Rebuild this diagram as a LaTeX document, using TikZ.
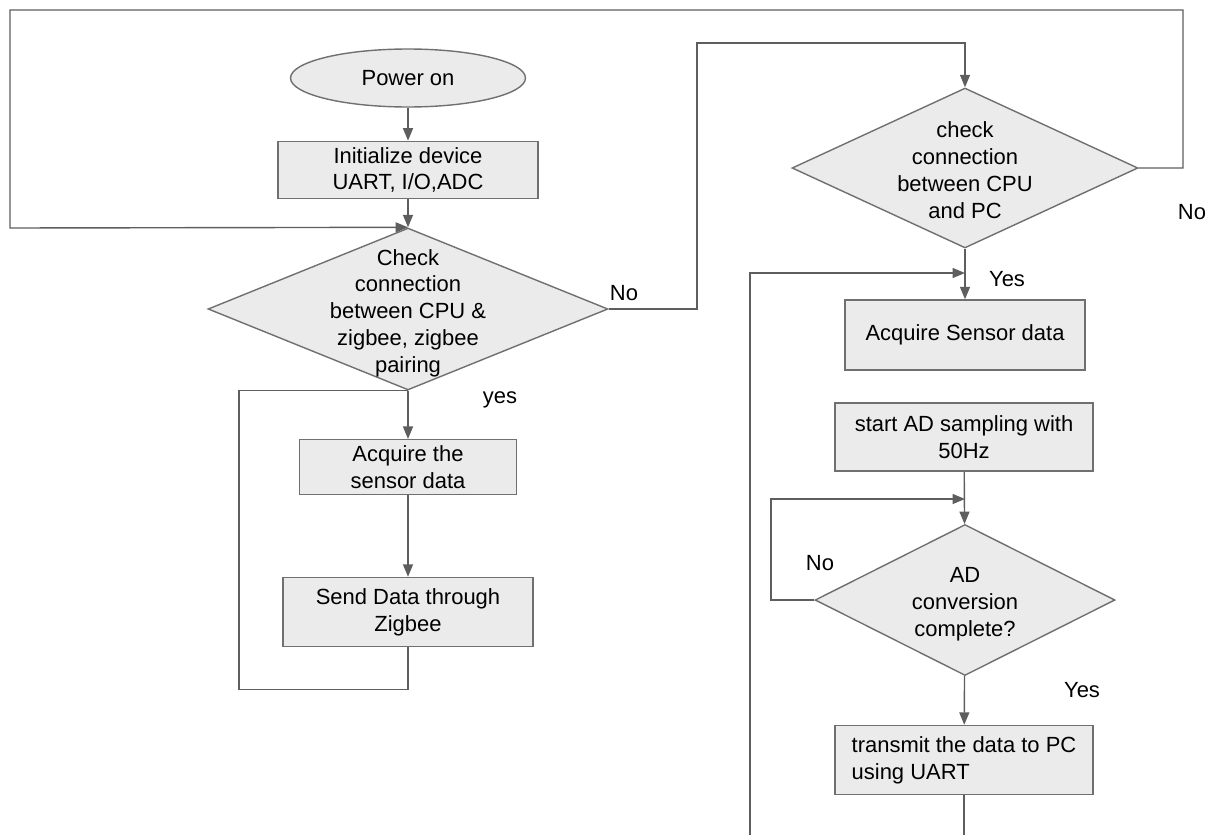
\documentclass[tikz,border=0pt]{standalone}
\usepackage{fontspec}
\setmainfont{Liberation Sans}
\usepackage{xcolor}
\usetikzlibrary{shapes.geometric}
\usetikzlibrary{arrows.meta}
\definecolor{boxfill}{HTML}{EBEBEB}
\definecolor{boxline}{HTML}{707070}
\definecolor{wireclr}{HTML}{5E5E5E}

\newcommand{\dlines}[1]{\makebox[0pt]{\smash{\raisebox{-5.5pt}{\begin{tabular}{@{}c@{}}#1\end{tabular}}}}}

\begin{document}
\begin{tikzpicture}[x=0.02cm, y=-0.02cm,
  font=\fontsize{12.5}{15.3}\selectfont,
  block/.style={rectangle, draw=boxline, fill=boxfill, line width=0.8pt, align=center},
  decision/.style={diamond, draw=boxline, fill=boxfill, line width=0.8pt, inner sep=0pt},
  terminal/.style={ellipse, draw=boxline, fill=boxfill, line width=0.8pt},
  wire/.style={draw=wireclr, line width=0.8pt},
  flow/.style={wire, -{Triangle[length=0.25cm, width=0.2cm]}},
]
  \useasboundingbox (0,0) rectangle (1212,835);

  % zigbee side
  \node[terminal, minimum width=4.7cm, minimum height=1.16cm] (pwr) at (408,78) {Power on};
  \node[block, minimum width=5.2cm, minimum height=1.06cm] (init) at (408,170) {Initialize device\\UART, I/O,ADC};
  \node[decision, minimum width=8cm, minimum height=3.24cm] (chk1) at (408,309)
    {\dlines{Check\\connection\\between CPU \&\\zigbee, zigbee\\pairing}};
  \node[block, minimum width=4.34cm, minimum height=1cm] (acq1) at (408,467) {Acquire the\\sensor data};
  \node[block, minimum width=5cm, minimum height=1.38cm] (send) at (408,612) {Send Data through\\Zigbee};

  % PC side
  \node[decision, minimum width=6.92cm, minimum height=3.2cm] (chk2) at (965,168)
    {\dlines{check\\connection\\between CPU\\and PC}};
  \node[block, minimum width=4.8cm, minimum height=1.4cm] (acqpc) at (965,335) {Acquire Sensor data};
  \node[block, minimum width=5.16cm, minimum height=1.36cm] (samp) at (964,437) {start AD sampling with\\50Hz};
  \node[decision, minimum width=6cm, minimum height=3.02cm] (adc) at (965,600)
    {\dlines{AD\\conversion\\complete?}};
  \node[block, align=left, minimum width=5.16cm, minimum height=1.38cm] (tx) at (964,760) {transmit the data to PC\\using UART};

  \node (no1) at (624,293) {No};
  \node (yes1) at (500,400) {yes};
  \node (no2) at (1192,212) {No};
  \node (yes2) at (1007,279) {Yes};
  \node (no3) at (820,563) {No};
  \node (yes3) at (1082,690) {Yes};

  \coordinate (pcjoin) at (965,273);
  \coordinate (adjoin) at (965,499);
  \coordinate (back) at (750,835);

  \draw[flow] (pwr) -- (init);
  \draw[flow] (init) -- (chk1);
  \draw[flow] (chk1) -- (acq1);
  \draw[flow] (acq1) -- (send);
  \draw[wire] (send.south) |- ++(-169,42) |- (chk1.south);
  \draw[flow] (chk1.east) -| (697,43) -| (chk2.north);
  \draw[flow] (chk2.east) -| (1183,10) -| (10,228) -- (chk1.north);

  \draw[flow] (chk2) -- (acqpc);
  \draw[flow] (back) |- (pcjoin);
  \draw[flow] (samp) -- (adc);
  \draw[flow] (adc.west) -| (771,499) -- (adjoin);
  \draw[flow] (adc) -- (tx);
  \draw[wire] (tx.south) -- (tx.south |- back);
\end{tikzpicture}
\end{document}
